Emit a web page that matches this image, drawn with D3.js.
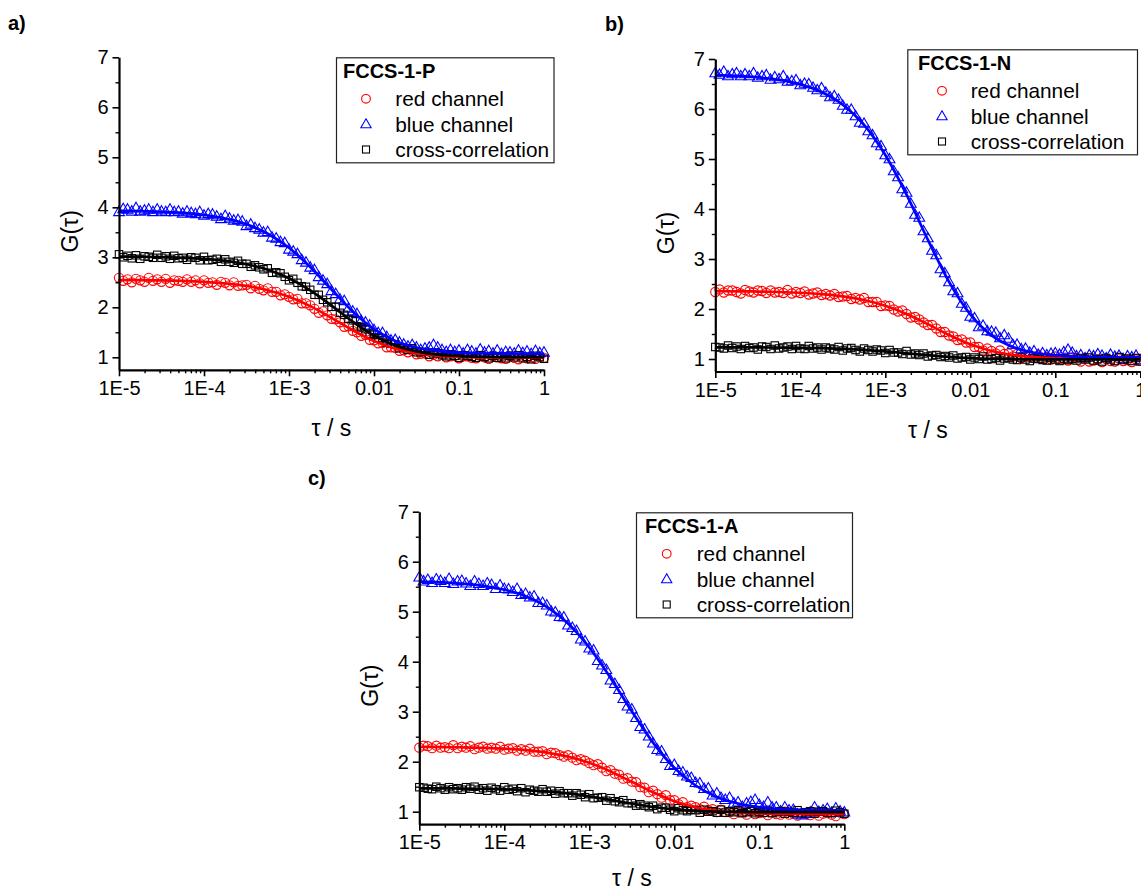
<!DOCTYPE html>
<html>
<head>
<meta charset="utf-8">
<script src="https://cdn.jsdelivr.net/npm/d3@7"></script>
<style>
  html, body { margin: 0; padding: 0; background: #ffffff; }
  svg { display: block; }
  text { font-family: "Liberation Sans", Arial, Helvetica, sans-serif; fill: #000; }
</style>
</head>
<body>
<svg id="chart" width="1141" height="892"></svg>
<script>
// Lag times τ (s) of the correlation curves, 20 per decade
const lagTimes = [
  1.000e-5,1.122e-5,1.259e-5,1.413e-5,1.585e-5,1.778e-5,1.995e-5,2.239e-5,2.512e-5,2.818e-5,3.162e-5,3.548e-5,3.981e-5,4.467e-5,5.012e-5,5.623e-5,6.310e-5,7.079e-5,7.943e-5,8.913e-5,
  1.000e-4,1.122e-4,1.259e-4,1.413e-4,1.585e-4,1.778e-4,1.995e-4,2.239e-4,2.512e-4,2.818e-4,3.162e-4,3.548e-4,3.981e-4,4.467e-4,5.012e-4,5.623e-4,6.310e-4,7.079e-4,7.943e-4,8.913e-4,
  1.000e-3,1.122e-3,1.259e-3,1.413e-3,1.585e-3,1.778e-3,1.995e-3,2.239e-3,2.512e-3,2.818e-3,3.162e-3,3.548e-3,3.981e-3,4.467e-3,5.012e-3,5.623e-3,6.310e-3,7.079e-3,7.943e-3,8.913e-3,
  1.000e-2,1.122e-2,1.259e-2,1.413e-2,1.585e-2,1.778e-2,1.995e-2,2.239e-2,2.512e-2,2.818e-2,3.162e-2,3.548e-2,3.981e-2,4.467e-2,5.012e-2,5.623e-2,6.310e-2,7.079e-2,7.943e-2,8.913e-2,
  1.000e-1,1.122e-1,1.259e-1,1.413e-1,1.585e-1,1.778e-1,1.995e-1,2.239e-1,2.512e-1,2.818e-1,3.162e-1,3.548e-1,3.981e-1,4.467e-1,5.012e-1,5.623e-1,6.310e-1,7.079e-1,7.943e-1,8.913e-1,
  1.000
];
// Lag times at which the fitted model curves are sampled
const fitLagTimes = [1e-5,1.778e-5,3.162e-5,5.623e-5,1e-4,1.778e-4,3.162e-4,5.623e-4,1e-3,1.778e-3,3.162e-3,5.623e-3,1e-2,1.778e-2,3.162e-2,5.623e-2,1e-1,1.778e-1,3.162e-1,5.623e-1,1];

// ---- FCCS-1-P ----
const redP = [
  2.59,2.53,2.56,2.50,2.57,2.54,2.51,2.59,2.53,2.56,
  2.51,2.57,2.49,2.54,2.53,2.51,2.56,2.51,2.54,2.48,
  2.54,2.49,2.50,2.45,2.51,2.49,2.44,2.50,2.43,2.44,
  2.45,2.38,2.43,2.37,2.34,2.38,2.31,2.31,2.24,2.26,
  2.21,2.16,2.17,2.08,2.08,2.04,1.97,1.89,1.92,1.84,
  1.77,1.76,1.70,1.61,1.62,1.53,1.50,1.43,1.45,1.35,
  1.34,1.28,1.29,1.20,1.20,1.19,1.13,1.14,1.10,1.13,
  1.06,1.07,1.08,1.02,1.05,1.02,1.07,1.00,1.02,1.03,
  0.98,1.02,1.02,0.99,0.98,1.03,1.00,0.97,1.02,1.00,
  0.98,0.97,1.02,0.99,0.96,1.01,0.98,1.00,0.97,1.02,
  0.99
];
const blueP = [
  3.91,3.97,3.96,3.92,3.99,3.92,3.94,3.96,3.91,3.96,
  3.92,3.91,3.96,3.91,3.92,3.88,3.92,3.89,3.87,3.91,
  3.84,3.87,3.86,3.82,3.77,3.83,3.78,3.74,3.75,3.72,
  3.63,3.66,3.59,3.56,3.50,3.51,3.40,3.38,3.31,3.29,
  3.16,3.12,3.07,2.95,2.90,2.80,2.75,2.61,2.54,2.47,
  2.33,2.27,2.16,2.13,1.98,1.92,1.87,1.73,1.70,1.64,
  1.55,1.49,1.49,1.41,1.34,1.35,1.30,1.26,1.22,1.25,
  1.20,1.15,1.18,1.20,1.25,1.20,1.15,1.11,1.15,1.11,
  1.14,1.08,1.15,1.12,1.08,1.16,1.10,1.13,1.08,1.14,
  1.07,1.11,1.10,1.08,1.14,1.09,1.12,1.07,1.13,1.09,
  1.10
];
const crossP = [
  3.06,3.00,3.03,2.98,3.04,2.97,3.02,3.01,2.99,3.05,
  2.99,3.02,2.97,3.03,2.98,2.99,2.95,3.00,2.99,2.94,
  3.01,2.94,2.95,2.97,2.91,2.96,2.91,2.89,2.93,2.87,
  2.87,2.81,2.84,2.80,2.76,2.78,2.69,2.70,2.68,2.61,
  2.54,2.57,2.49,2.42,2.41,2.35,2.25,2.25,2.15,2.10,
  2.01,2.01,1.89,1.85,1.77,1.74,1.62,1.60,1.56,1.47,
  1.45,1.38,1.38,1.29,1.27,1.26,1.18,1.19,1.15,1.18,
  1.10,1.10,1.11,1.05,1.08,1.08,1.04,1.02,1.06,1.03,
  0.99,1.04,1.03,1.01,0.99,1.04,1.01,0.98,1.03,0.99,
  1.02,0.98,1.03,1.00,1.04,0.98,1.01,0.96,1.03,1.00,
  0.97
];
const fitRedP   = [2.546,2.543,2.537,2.527,2.509,2.479,2.427,2.342,2.210,2.023,1.789,1.542,1.327,1.174,1.082,1.033,1.009,0.998,0.994,0.992,0.991];
const fitBlueP  = [3.930,3.923,3.910,3.887,3.846,3.777,3.660,3.472,3.190,2.806,2.356,1.915,1.562,1.328,1.195,1.127,1.095,1.081,1.075,1.072,1.071];
const fitCrossP = [3.015,3.011,3.003,2.990,2.967,2.928,2.861,2.751,2.580,2.338,2.034,1.714,1.436,1.238,1.119,1.055,1.025,1.011,1.005,1.002,1.001];

// ---- FCCS-1-N ----
const redN = [
  2.34,2.39,2.33,2.37,2.37,2.34,2.31,2.38,2.35,2.33,
  2.37,2.36,2.32,2.37,2.33,2.34,2.32,2.38,2.31,2.34,
  2.32,2.35,2.29,2.31,2.33,2.28,2.30,2.27,2.30,2.24,
  2.25,2.26,2.20,2.22,2.19,2.22,2.14,2.14,2.14,2.06,
  2.07,2.06,1.99,1.95,1.97,1.90,1.83,1.84,1.79,1.73,
  1.68,1.68,1.61,1.54,1.54,1.47,1.45,1.38,1.39,1.33,
  1.33,1.24,1.24,1.17,1.21,1.16,1.11,1.17,1.10,1.11,
  1.05,1.10,1.02,1.06,1.04,1.02,1.07,1.02,1.04,0.99,
  1.05,1.00,1.01,0.97,1.03,1.02,0.95,1.02,0.95,0.97,
  0.99,0.94,1.00,0.96,0.95,1.01,0.96,0.98,0.94,0.99,
  0.97
];
const blueN = [
  6.72,6.69,6.75,6.66,6.70,6.72,6.66,6.70,6.66,6.72,
  6.63,6.66,6.68,6.59,6.64,6.60,6.66,6.55,6.56,6.58,
  6.48,6.51,6.50,6.43,6.38,6.42,6.33,6.24,6.26,6.19,
  6.07,5.99,5.99,5.86,5.73,5.71,5.56,5.48,5.32,5.26,
  5.08,5.00,4.76,4.64,4.40,4.33,4.11,3.89,3.83,3.56,
  3.42,3.17,3.08,2.80,2.72,2.54,2.36,2.32,2.11,2.03,
  1.85,1.82,1.64,1.67,1.56,1.55,1.53,1.42,1.48,1.41,
  1.29,1.29,1.20,1.21,1.13,1.16,1.09,1.12,1.08,1.11,
  1.12,1.09,1.14,1.19,1.13,1.06,1.08,1.02,1.08,1.06,
  1.10,1.07,1.02,1.09,1.05,1.07,1.00,1.06,1.04,1.07,
  0.98
];
const crossN = [
  1.24,1.23,1.21,1.27,1.22,1.25,1.20,1.26,1.22,1.23,
  1.19,1.25,1.24,1.20,1.27,1.21,1.23,1.25,1.20,1.26,
  1.21,1.20,1.26,1.21,1.23,1.19,1.23,1.21,1.19,1.24,
  1.17,1.21,1.22,1.18,1.15,1.21,1.18,1.15,1.19,1.17,
  1.12,1.18,1.13,1.13,1.10,1.16,1.09,1.11,1.08,1.11,
  1.05,1.07,1.08,1.04,1.06,1.03,1.07,1.01,1.03,1.04,
  0.99,1.03,1.00,1.05,0.99,1.00,1.02,0.97,1.01,1.02,
  0.99,0.98,1.03,0.99,0.96,1.01,1.00,0.98,0.97,1.02,
  0.99,0.96,1.01,0.98,1.00,0.97,1.02,0.99,1.03,0.97,
  1.00,0.95,1.02,0.99,0.96,1.04,0.98,1.01,0.96,1.02,
  0.95
];
const fitRedN   = [2.356,2.354,2.349,2.340,2.325,2.298,2.253,2.179,2.064,1.901,1.697,1.481,1.294,1.160,1.080,1.037,1.017,1.007,1.003,1.001,1.001];
const fitBlueN  = [6.678,6.662,6.633,6.582,6.493,6.341,6.086,5.681,5.081,4.289,3.389,2.543,1.891,1.473,1.242,1.126,1.073,1.048,1.038,1.033,1.031];
const fitCrossN = [1.234,1.233,1.231,1.229,1.224,1.216,1.202,1.182,1.152,1.115,1.077,1.043,1.019,1.004,0.997,0.993,0.991,0.991,0.991,0.991,0.991];

// ---- FCCS-1-A ----
const redA = [
  2.28,2.32,2.31,2.27,2.32,2.28,2.29,2.27,2.33,2.27,
  2.30,2.28,2.31,2.25,2.28,2.30,2.26,2.28,2.26,2.30,
  2.24,2.26,2.27,2.22,2.25,2.22,2.26,2.20,2.20,2.21,
  2.15,2.18,2.17,2.13,2.10,2.13,2.08,2.03,2.05,2.02,
  1.97,1.93,1.95,1.88,1.81,1.83,1.76,1.74,1.66,1.67,
  1.60,1.59,1.49,1.48,1.39,1.42,1.35,1.28,1.33,1.23,
  1.23,1.15,1.19,1.09,1.12,1.09,1.05,1.10,1.03,1.05,
  0.99,1.04,0.99,0.99,0.95,1.00,0.99,0.94,1.01,0.95,
  0.97,0.98,0.93,0.99,0.95,0.94,1.00,0.94,0.96,0.92,
  0.97,0.95,0.93,0.98,0.92,0.96,0.97,0.94,0.91,0.98,
  0.95
];
const blueA = [
  5.69,5.61,5.64,5.58,5.65,5.62,5.58,5.66,5.56,5.61,
  5.62,5.57,5.52,5.61,5.56,5.52,5.57,5.54,5.46,5.53,
  5.46,5.45,5.40,5.46,5.34,5.36,5.29,5.31,5.18,5.18,
  5.13,5.01,4.99,4.90,4.89,4.73,4.68,4.62,4.45,4.41,
  4.27,4.23,4.02,3.93,3.84,3.63,3.56,3.44,3.26,3.11,
  3.05,2.88,2.70,2.65,2.51,2.37,2.24,2.21,2.06,1.92,
  1.94,1.82,1.79,1.71,1.68,1.58,1.57,1.46,1.47,1.33,
  1.37,1.28,1.24,1.28,1.17,1.19,1.10,1.17,1.20,1.24,
  1.14,1.10,1.19,1.09,1.09,1.01,1.09,1.03,1.04,0.95,
  0.93,0.96,0.99,1.09,1.00,1.03,1.06,0.98,1.07,1.01,
  0.99
];
const crossA = [
  1.49,1.48,1.46,1.45,1.50,1.47,1.44,1.49,1.45,1.47,
  1.44,1.49,1.46,1.50,1.44,1.47,1.42,1.48,1.45,1.42,
  1.49,1.44,1.46,1.41,1.47,1.39,1.44,1.42,1.40,1.45,
  1.40,1.42,1.36,1.41,1.37,1.37,1.32,1.37,1.34,1.29,
  1.35,1.27,1.28,1.29,1.22,1.27,1.21,1.19,1.23,1.17,
  1.17,1.12,1.15,1.12,1.09,1.12,1.05,1.08,1.08,1.04,
  1.01,1.07,1.03,1.01,1.04,1.03,0.98,1.04,1.00,1.01,
  0.98,1.04,0.98,1.01,0.99,1.03,0.97,0.99,1.01,0.97,
  1.00,0.98,1.02,0.97,0.99,1.01,0.96,1.00,0.98,1.03,
  0.97,0.99,1.01,0.96,1.00,1.01,0.98,0.97,1.02,0.99,
  0.96
];
const fitRedA   = [2.296,2.293,2.287,2.277,2.261,2.231,2.182,2.101,1.978,1.806,1.598,1.387,1.211,1.089,1.019,0.981,0.965,0.956,0.952,0.951,0.950];
const fitBlueA  = [5.602,5.588,5.563,5.519,5.440,5.310,5.096,4.762,4.284,3.676,3.007,2.381,1.878,1.524,1.296,1.163,1.090,1.053,1.035,1.026,1.023];
const fitCrossA = [1.468,1.466,1.463,1.457,1.448,1.432,1.406,1.366,1.308,1.236,1.160,1.094,1.047,1.018,1.003,0.996,0.993,0.991,0.990,0.990,0.990];

// Axis ticks and labels
const yTicksMajor = [1, 2, 3, 4, 5, 6, 7];
const yTicksMinor = [1.5, 2.5, 3.5, 4.5, 5.5, 6.5];
const xTicksMajor = [1e-5, 1e-4, 1e-3, 1e-2, 1e-1, 1];
const xTickLabels = ["1E-5", "1E-4", "1E-3", "0.01", "0.1", "1"];
const seriesLabels = ["red channel", "blue channel", "cross-correlation"];

// Styling per series: colour and marker shape
const seriesStyle = [
  { color: "#ff0000", shape: "circle" },
  { color: "#0000ff", shape: "triangle" },
  { color: "#000000", shape: "square" }
];

// Panel layout (pixel positions of each plot frame and its legend)
const panels = [
  { tag: "a)", tagX: 8, tagY: 30, title: "FCCS-1-P", left: 119, top: 57.3, xTitleGap: 66,
    legend: { x: 336, y: 57.3, w: 217.5, titleX: 7, symX: 30, textX: 59.3 },
    data: [redP, blueP, crossP], fits: [fitRedP, fitBlueP, fitCrossP] },
  { tag: "b)", tagX: 605, tagY: 31, title: "FCCS-1-N", left: 715.3, top: 59, xTitleGap: 66,
    legend: { x: 907.3, y: 49.3, w: 229.7, titleX: 10.7, symX: 34.7, textX: 63.4 },
    data: [redN, blueN, crossN], fits: [fitRedN, fitBlueN, fitCrossN] },
  { tag: "c)", tagX: 308, tagY: 485, title: "FCCS-1-A", left: 419.3, top: 511.7, xTitleGap: 61.5,
    legend: { x: 636, y: 512.3, w: 216, titleX: 9, symX: 30.7, textX: 60.7 },
    data: [redA, blueA, crossA], fits: [fitRedA, fitBlueA, fitCrossA] }
];

const PLOT_W = 425;
const PLOT_H = 312.5;
const FONT = '"Liberation Sans", Arial, Helvetica, sans-serif';

const svg = d3.select("#chart");
svg.append("rect").attr("width", 1141).attr("height", 892).attr("fill", "#fff");

function marker(g, shape, color, cx, cy, scale) {
  const s = scale || 1;
  if (shape === "circle") {
    g.append("circle").attr("cx", cx).attr("cy", cy).attr("r", 4.6 * s)
      .attr("fill", "none").attr("stroke", color).attr("stroke-width", 1.1);
  } else if (shape === "triangle") {
    const w = 5.4 * s, hUp = 5.6 * s, hDn = 3.8 * s;
    g.append("path")
      .attr("d", `M${cx},${cy - hUp}L${cx + w},${cy + hDn}L${cx - w},${cy + hDn}Z`)
      .attr("fill", "none").attr("stroke", color).attr("stroke-width", 1.1);
  } else {
    const h = 3.7 * s;
    g.append("rect").attr("x", cx - h).attr("y", cy - h).attr("width", 2 * h).attr("height", 2 * h)
      .attr("fill", "none").attr("stroke", color).attr("stroke-width", 1.1);
  }
}

panels.forEach(p => {
  const g = svg.append("g");
  const x = d3.scaleLog().domain([1e-5, 1]).range([p.left, p.left + PLOT_W]);
  const y = d3.scaleLinear().domain([0.75, 7]).range([p.top + PLOT_H, p.top]);
  const bottom = p.top + PLOT_H;

  // measured points
  const marks = g.append("g");
  p.data.forEach((vals, si) => {
    const st = seriesStyle[si];
    vals.forEach((v, i) => marker(marks, st.shape, st.color, x(lagTimes[i]), y(v)));
  });

  // fitted curves
  const line = d3.line().x(d => x(d[0])).y(d => y(d[1])).curve(d3.curveMonotoneX);
  p.fits.forEach((vals, si) => {
    g.append("path")
      .attr("d", line(fitLagTimes.map((t, i) => [t, vals[i]])))
      .attr("fill", "none")
      .attr("stroke", seriesStyle[si].color)
      .attr("stroke-width", 2.7)
      .attr("stroke-linejoin", "round");
  });

  // x axis: decade labels plus unlabeled 2..9 minor ticks
  const xMinor = x.ticks().filter(t => !xTicksMajor.some(m => Math.abs(m - t) / m < 1e-6));
  g.append("g").attr("transform", `translate(0,${bottom})`)
    .call(d3.axisBottom(x).tickValues(xMinor).tickSize(3.5).tickSizeOuter(0).tickFormat(""))
    .call(a => a.select(".domain").remove())
    .call(a => a.selectAll(".tick line").attr("stroke-width", 1.4));
  g.append("g").attr("transform", `translate(0,${bottom})`)
    .call(d3.axisBottom(x).tickValues(xTicksMajor).tickSize(6.5).tickSizeOuter(0).tickPadding(4.5)
      .tickFormat((d, i) => xTickLabels[i]))
    .call(a => a.select(".domain").attr("stroke-width", 2.2))
    .call(a => a.selectAll(".tick line").attr("stroke-width", 1.6))
    .call(a => a.selectAll("text").attr("font-size", 20).attr("font-family", FONT).attr("fill", "#000"));

  // y axis: integer labels plus half-unit minor ticks
  g.append("g").attr("transform", `translate(${p.left},0)`)
    .call(d3.axisLeft(y).tickValues(yTicksMinor).tickSize(3.5).tickSizeOuter(0).tickFormat(""))
    .call(a => a.select(".domain").remove())
    .call(a => a.selectAll(".tick line").attr("stroke-width", 1.4));
  g.append("g").attr("transform", `translate(${p.left},0)`)
    .call(d3.axisLeft(y).tickValues(yTicksMajor).tickSize(6.5).tickSizeOuter(0).tickPadding(4)
      .tickFormat(d3.format("d")))
    .call(a => a.select(".domain").attr("stroke-width", 2.2))
    .call(a => a.selectAll(".tick line").attr("stroke-width", 1.6))
    .call(a => a.selectAll("text").attr("font-size", 20).attr("font-family", FONT).attr("fill", "#000"));

  // axis titles
  g.append("text")
    .attr("transform", `translate(${p.left - 49},${p.top + 174}) rotate(-90)`)
    .attr("text-anchor", "middle").attr("dy", "0.35em")
    .attr("font-size", 23).text("G(τ)");
  g.append("text")
    .attr("x", p.left + PLOT_W / 2).attr("y", bottom + p.xTitleGap)
    .attr("text-anchor", "middle").attr("font-size", 23).text("τ / s");

  // panel tag
  g.append("text").attr("x", p.tagX).attr("y", p.tagY)
    .attr("font-size", 20).attr("font-weight", "bold").text(p.tag);

  // legend
  const L = p.legend;
  const lg = g.append("g").attr("transform", `translate(${L.x},${L.y})`);
  lg.append("rect").attr("x", 0.5).attr("y", 0.5).attr("width", L.w).attr("height", 105)
    .attr("fill", "#fff").attr("stroke", "#222").attr("stroke-width", 1.2);
  lg.append("text").attr("x", L.titleX).attr("y", 21)
    .attr("font-size", 20).attr("font-weight", "bold").text(p.title);
  const rows = [41.5, 66.8, 92.2];
  seriesLabels.forEach((lab, si) => {
    marker(lg, seriesStyle[si].shape, seriesStyle[si].color, L.symX, rows[si], 0.95);
    lg.append("text").attr("x", L.textX).attr("y", rows[si] + 7.5)
      .attr("font-size", 20.8).text(lab);
  });
});
</script>
</body>
</html>
